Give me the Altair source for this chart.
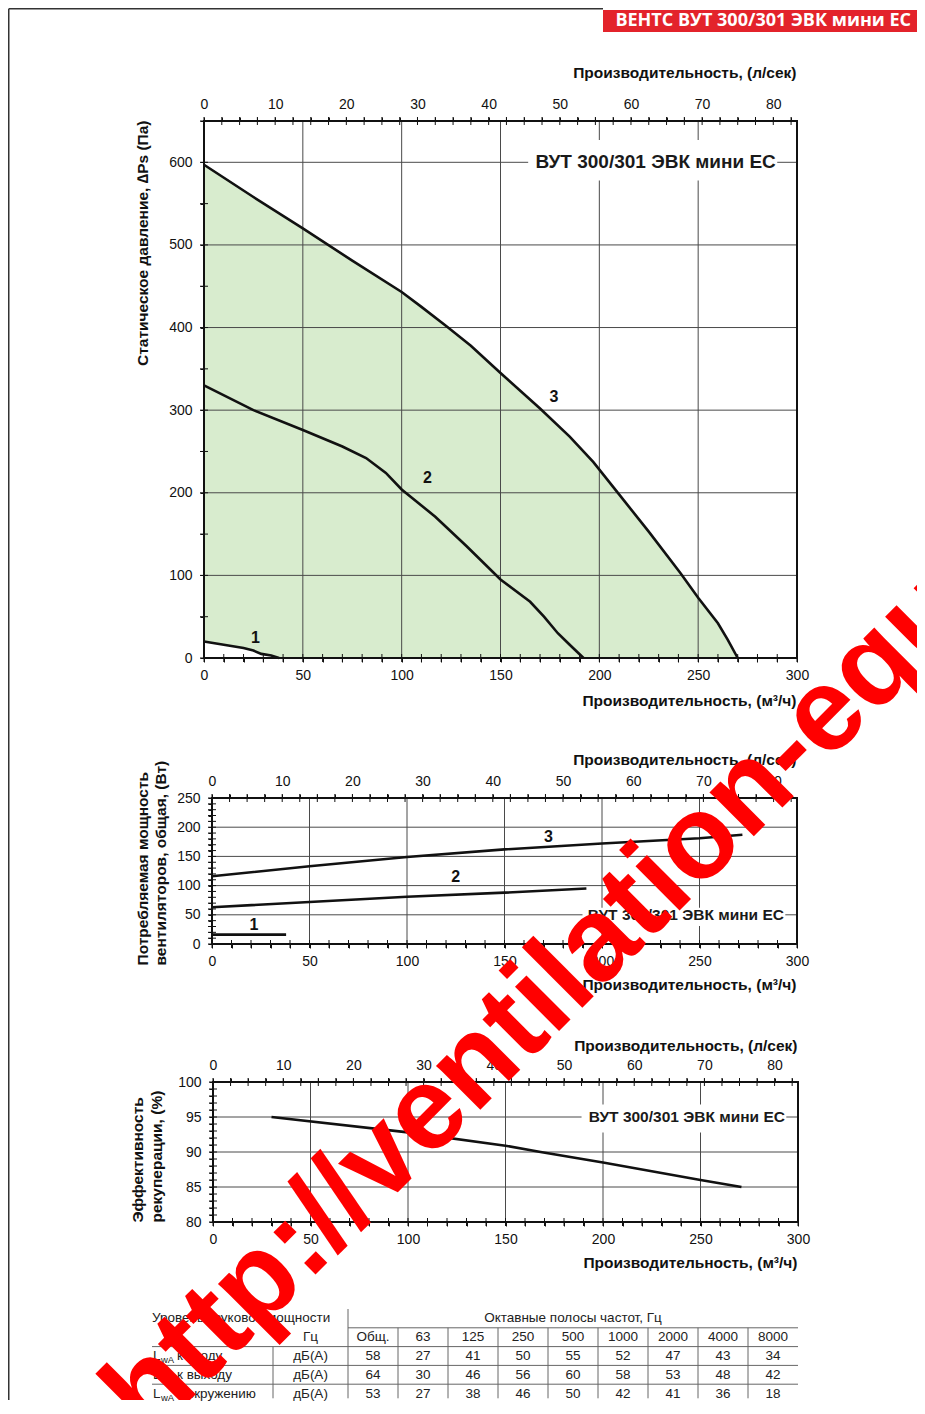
import altair as alt
import pandas as pd

FONT = "Liberation Sans, Arial, Helvetica, sans-serif"
BANNER_FONT = "Open Sans, Liberation Sans, sans-serif"
W, H = 909, 1392

# ---------------- data ----------------
banner_text = "ВЕНТС ВУТ 300/301 ЭВК мини ЕС"
model_name = "ВУТ 300/301 ЭВК мини ЕС"
curve_ids = ["1", "2", "3"]
flow_grid = [50, 100, 150, 200, 250]          # m3/h grid lines

# Panel 1: static pressure (Pa) vs airflow (m3/h)
p1_c1_q = [0, 10, 20, 25, 29, 34, 38]
p1_c1_p = [20, 16, 12, 9, 5, 3, 0]
p1_c2_q = [0, 25, 50, 70, 82, 92, 100, 117, 133, 150, 165, 172, 179, 185, 192]
p1_c2_p = [330, 300, 276, 256, 242, 224, 204, 171, 135, 95, 68, 50, 30, 16, 0]
p1_c3_q = [0, 25, 50, 75, 100, 110, 123, 135, 150, 170, 185, 197, 210, 225, 241, 250, 260, 265, 270]
p1_c3_p = [597, 558, 520, 481, 443, 425, 401, 378, 345, 302, 268, 237, 198, 153, 103, 73, 42, 22, 0]
p1_lab_q = [26, 113, 177]
p1_lab_p = [24, 218, 316]
p1_grid = [100, 200, 300, 400, 500, 600]

# Panel 2: fan power (W) vs airflow
p2_c1_q = [0, 38]
p2_c1_w = [16, 16]
p2_c2_q = [0, 50, 100, 150, 192]
p2_c2_w = [63, 72, 81, 88, 95]
p2_c3_q = [0, 50, 100, 150, 200, 250, 272]
p2_c3_w = [116, 133, 149, 162, 172, 181, 187]
p2_lab_q = [21.5, 125, 172.5]
p2_lab_w = [33, 114, 183]
p2_grid = [50, 100, 150, 200]

# Panel 3: recuperation efficiency (%) vs airflow
p3_q = [30, 100, 150, 168, 200, 250, 271]
p3_e = [95, 92.8, 90.9, 90.0, 88.5, 86.0, 85.0]
p3_grid = [85, 90, 95]

# Sound table
tbl_head_left = "Уровень звуковой мощности"
tbl_head_right = "Октавные полосы частот, Гц"
tbl_unit_head = "Гц"
tbl_cols = ["Общ.", "63", "125", "250", "500", "1000", "2000", "4000", "8000"]
tbl_rows = ["к входу", "к выходу", "к окружению"]
tbl_unit = "дБ(А)"
tbl_vals = [
    [58, 27, 41, 50, 55, 52, 47, 43, 34],
    [64, 30, 46, 56, 60, 58, 53, 48, 42],
    [53, 27, 38, 46, 50, 42, 41, 36, 18],
]

watermark = "http://ventilation-equi"

LS_PER_M3H = 1 / 3.6


# ---------------- helpers ----------------
def lbl(step):
    return f"datum.value % {step} === 0 ? datum.label : ''"


def curves_df(qs, vs, ids):
    rows = []
    for q, v, cid in zip(qs, vs, ids):
        for a, b in zip(q, v):
            rows.append({"q": a, "v": b, "curve": cid})
    return pd.DataFrame(rows)


def build_panel(px, py, ydom, ystep_minor, ystep_major, ygrid, ytitle, ytitle_x, ytitle_y,
                ytitle_align, lh, top_title_y, bottom_title_y, line_df, label_df,
                box, model_pos, model_size, areas=None):
    xl, xr = px
    yb, yt = py
    xs = alt.Scale(domain=[0, 300], range=[xl, xr], nice=False, zero=False)
    lsc = alt.Scale(domain=[0, 300 * LS_PER_M3H], range=[xl, xr], nice=False, zero=False)
    ys = alt.Scale(domain=ydom, range=[yb, yt], nice=False, zero=False)
    yvals = list(range(ydom[0], ydom[1] + 1, ystep_minor))
    ls_vals = [i * 2.5 for i in range(34)]

    xa = alt.Axis(orient="bottom", offset=yb - H, domain=False, grid=False,
                  values=list(range(0, 301, 10)), labelExpr=lbl(50), tickSize=4,
                  labelPadding=6, title="Производительность, (м³/ч)", titleAlign="right",
                  titleBaseline="alphabetic", titleX=xr - 1, titleY=bottom_title_y)
    ya = alt.Axis(orient="left", offset=-xl, domain=False, grid=False, values=yvals,
                  labelExpr=lbl(ystep_major), tickSize=4, labelPadding=8, title=ytitle,
                  titleAngle=270, titleAlign=ytitle_align, titleBaseline="alphabetic",
                  titleX=ytitle_x, titleY=ytitle_y, titleLineHeight=lh)
    ta = alt.Axis(orient="top", offset=-yt, domain=False, grid=False,
                  values=ls_vals, labelExpr=lbl(10), tickSize=4,
                  labelPadding=6, title="Производительность, (л/сек)", titleAlign="right",
                  titleBaseline="alphabetic", titleX=xr - 1, titleY=top_title_y)

    def X(f):
        return alt.X(f"{f}:Q", scale=xs, axis=xa)

    def Y(f):
        return alt.Y(f"{f}:Q", scale=ys, axis=ya)

    layers = []
    if areas:
        for df, color in areas:
            layers.append(alt.Chart(df).mark_area(color=color, opacity=1).encode(
                x=X("q"), y=Y("v"), y2=alt.Y2("base")))
    grid_rows = [(g, g, ydom[0], ydom[1]) for g in flow_grid] + [(0, 300, g, g) for g in ygrid]
    gdf = pd.DataFrame(grid_rows, columns=["x1", "x2", "y1", "y2"])
    layers.append(alt.Chart(gdf).mark_rule(color="#4a4a4a", strokeWidth=1).encode(
        x=X("x1"), x2=alt.X2("x2"), y=Y("y1"), y2=alt.Y2("y2")))
    bdf = pd.DataFrame({"x1": [box[0]], "x2": [box[1]], "y1": [box[2]], "y2": [box[3]]})
    layers.append(alt.Chart(bdf).mark_rect(color="white").encode(
        x=X("x1"), x2=alt.X2("x2"), y=Y("y1"), y2=alt.Y2("y2")))
    mdf = pd.DataFrame({"q": [model_pos[0]], "v": [model_pos[1]], "t": [model_name]})
    layers.append(alt.Chart(mdf).mark_text(align="right", baseline="middle", font=FONT,
                                           fontSize=model_size, fontWeight="bold",
                                           color="#1a1a1a").encode(
        x=X("q"), y=Y("v"), text="t:N"))
    layers.append(alt.Chart(line_df).mark_line(color="#111111", strokeWidth=2.6).encode(
        x=X("q"), y=Y("v"), detail="curve:N"))
    if label_df is not None:
        layers.append(alt.Chart(label_df).mark_text(font=FONT, fontSize=16, fontWeight="bold",
                                                    color="#111111", baseline="middle").encode(
            x=X("q"), y=Y("v"), text="curve:N"))
    # inward halves of the axis ticks (crossing ticks)
    vt = pd.DataFrame({"q": list(range(0, 301, 10)) + [v / LS_PER_M3H for v in ls_vals],
                       "v": [ydom[0]] * 31 + [ydom[1]] * len(ls_vals)})
    layers.append(alt.Chart(vt).mark_tick(orient="vertical", size=8, thickness=1,
                                          color="#111111", opacity=1).encode(x=X("q"), y=Y("v")))
    ht = pd.DataFrame({"q": [0] * len(yvals), "v": yvals})
    layers.append(alt.Chart(ht).mark_tick(orient="horizontal", size=8, thickness=1,
                                          color="#111111", opacity=1).encode(x=X("q"), y=Y("v")))
    frame = pd.DataFrame({"x1": [0], "x2": [300], "y1": [ydom[0]], "y2": [ydom[1]]})
    layers.append(alt.Chart(frame).mark_rect(fillOpacity=0, stroke="#111111", strokeWidth=2).encode(
        x=X("x1"), x2=alt.X2("x2"), y=Y("y1"), y2=alt.Y2("y2")))
    inner = alt.layer(*layers)

    edf = pd.DataFrame({"ls": [0, 300 * LS_PER_M3H]})
    ext = alt.Chart(edf).mark_point(opacity=0).encode(x=alt.X("ls:Q", scale=lsc, axis=ta))
    return alt.layer(inner, ext).resolve_scale(x="independent").resolve_axis(x="independent")


one = pd.DataFrame({"a": [0]})

# ----- panel 1 -----
p1_lines = curves_df([p1_c1_q, p1_c2_q, p1_c3_q], [p1_c1_p, p1_c2_p, p1_c3_p], curve_ids)
p1_labels = pd.DataFrame({"q": p1_lab_q, "v": p1_lab_p, "curve": curve_ids})
area3 = pd.DataFrame({"q": p1_c3_q, "v": p1_c3_p, "base": [0] * len(p1_c3_q)})
area1 = pd.DataFrame({"q": p1_c1_q, "v": p1_c1_p, "base": [0] * len(p1_c1_q)})
p1 = build_panel((196, 789), (650, 113), [0, 650], 50, 100, p1_grid,
                 "Статическое давление, ∆Ps (Па)", -57, 112, "right", 18, -44, 47,
                 p1_lines, p1_labels, (164, 290, 578, 627), (289.3, 600), 19,
                 areas=[(area3, "#d8ecce"), (area1, "white")])

# ----- panel 2 -----
p2_lines = curves_df([p2_c1_q, p2_c2_q, p2_c3_q], [p2_c1_w, p2_c2_w, p2_c3_w], curve_ids)
p2_labels = pd.DataFrame({"q": p2_lab_q, "v": p2_lab_w, "curve": curve_ids})
p2 = build_panel((204, 789), (936, 790), [0, 250], 10, 50, p2_grid,
                 ["Потребляемая мощность", "вентиляторов, общая, (Вт)"], -65, 957, "left", 18,
                 -34, 45, p2_lines, p2_labels, (190, 294, 31, 62), (293.3, 50), 15.5)

# ----- panel 3 -----
p3_lines = curves_df([p3_q], [p3_e], ["1"])
p3 = build_panel((205, 790), (1214, 1074), [80, 100], 1, 5, p3_grid,
                 ["Эффективность", "рекуперации, (%)"], -71, 1214, "left", 19,
                 -32, 45, p3_lines, None, (189, 294, 92.8, 96.8), (293.3, 95), 15.5)

# ----- table -----
U_LABEL = 2.42
U_UNIT = 1.5
U_VAL0 = U_LABEL + U_UNIT
U_TOTAL = U_VAL0 + len(tbl_cols)
tx = alt.Scale(domain=[0, U_TOTAL], range=[144, 790], nice=False, zero=False)
ty = alt.Scale(domain=[0, 5], range=[1301, 1395], nice=False, zero=False)


def TX(f):
    return alt.X(f"{f}:Q", scale=tx, axis=None)


def TY(f):
    return alt.Y(f"{f}:Q", scale=ty, axis=None)


rules = [(U_VAL0, U_TOTAL, 1, 1)] + [(0, U_TOTAL, r, r) for r in (2, 3, 4)]
rules += [(U_VAL0, U_VAL0, 0, 4.75)]
rules += [(U_VAL0 + j, U_VAL0 + j, 1, 4.75) for j in range(1, len(tbl_cols))]
rules += [(U_LABEL, U_LABEL, 2, 4.75)]
rdf = pd.DataFrame(rules, columns=["x1", "x2", "y1", "y2"])

center_cells = [((U_VAL0 + U_TOTAL) / 2, 0.5, tbl_head_right),
                (U_LABEL + U_UNIT / 2, 1.5, tbl_unit_head)]
for j, c in enumerate(tbl_cols):
    center_cells.append((U_VAL0 + j + 0.5, 1.5, c))
for i, row in enumerate(tbl_vals):
    center_cells.append((U_LABEL + U_UNIT / 2, 2.5 + i, tbl_unit))
    for j, val in enumerate(row):
        center_cells.append((U_VAL0 + j + 0.5, 2.5 + i, str(val)))
cdf = pd.DataFrame(center_cells, columns=["x", "y", "t"])
ldf = pd.DataFrame([(0, 0.5, tbl_head_left)], columns=["x", "y", "t"])
rowdf = pd.DataFrame({"x": [0] * 3, "y": [2.5, 3.5, 4.5], "t": tbl_rows,
                      "L": ["L"] * 3, "s": ["wA"] * 3})

tcommon = dict(font=FONT, fontSize=13.5, color="#222222", baseline="middle")
table = alt.layer(
    alt.Chart(rdf).mark_rule(color="#666666", strokeWidth=1).encode(
        x=TX("x1"), x2=alt.X2("x2"), y=TY("y1"), y2=alt.Y2("y2")),
    alt.Chart(cdf).mark_text(align="center", **tcommon).encode(x=TX("x"), y=TY("y"), text="t:N"),
    alt.Chart(ldf).mark_text(align="left", **tcommon).encode(x=TX("x"), y=TY("y"), text="t:N"),
    alt.Chart(rowdf).mark_text(align="left", dx=1, **tcommon).encode(x=TX("x"), y=TY("y"), text="L:N"),
    alt.Chart(rowdf).mark_text(align="left", dx=9, dy=4, font=FONT, fontSize=9.5, color="#222222",
                               baseline="middle").encode(x=TX("x"), y=TY("y"), text="s:N"),
    alt.Chart(rowdf).mark_text(align="left", dx=25, **tcommon).encode(x=TX("x"), y=TY("y"), text="t:N"),
)

# ----- page decorations -----
frame_left = alt.Chart(one).mark_rule(color="#333333", strokeWidth=1.5).encode(
    x=alt.value(0.75), y=alt.value(0.75), y2=alt.value(H))
frame_top = alt.Chart(one).mark_rule(color="#333333", strokeWidth=1.5).encode(
    x=alt.value(0.75), x2=alt.value(595), y=alt.value(0.75))
banner = alt.Chart(one).mark_rect(color="#e3232b").encode(
    x=alt.value(595), x2=alt.value(W), y=alt.value(2), y2=alt.value(24))
banner_lbl = alt.Chart(one).mark_text(align="right", baseline="middle", font=BANNER_FONT,
                                      fontSize=18, fontWeight="bold", color="white").encode(
    x=alt.value(903), y=alt.value(13), text=alt.value(banner_text))
wm = alt.Chart(one).mark_text(align="left", baseline="alphabetic", angle=315, fontSize=118,
                              fontWeight="bold", font=FONT, color="#ff0000", clip=True).encode(
    x=alt.value(142), y=alt.value(1432), text=alt.value(watermark))

chart = alt.layer(p1, p2, p3, table, frame_left, frame_top, banner, banner_lbl, wm).resolve_scale(
    x="independent", y="independent").resolve_axis(x="independent", y="independent").properties(
    width=W, height=H, padding=0, background="white").configure_axis(
    labelFont=FONT, labelFontSize=14, labelColor="#111111", titleFont=FONT, titleFontSize=15.5,
    titleFontWeight="bold", titleColor="#111111", tickColor="#111111",
    labelOverlap=False, labelFlush=False
).configure_view(strokeWidth=0)

chart.save("out.html", embed_options={"renderer": "svg", "actions": False})
